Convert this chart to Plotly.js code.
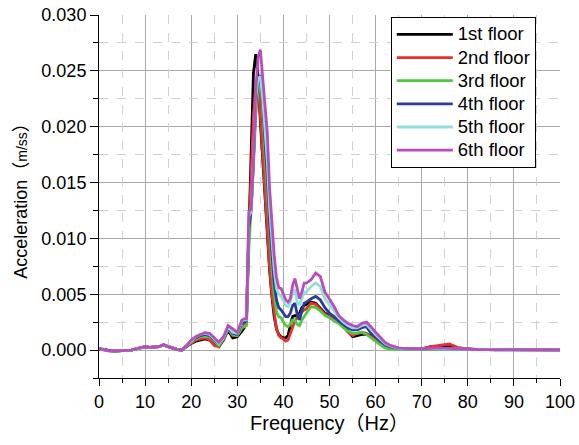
<!DOCTYPE html>
<html>
<head>
<meta charset="utf-8">
<script src="https://cdn.plot.ly/plotly-3.0.1.min.js"></script>
<style>
  html, body { margin: 0; padding: 0; background: #fff; }
  #chart { width: 579px; height: 445px; }
</style>
</head>
<body>
<div id="chart"></div>
<script>
// Frequency samples (Hz), shared by every floor
const freq = [0,1,2,3,4,5,6,7,8,9,10,11,12,13,14,15,16,17,18,19,20,21,22,23,24,25,26,27,28,29,30,31,
  31.5,32,32.5,33,33.5,34,34.5,35,35.5,36,36.5,37,37.5,38,38.5,39,39.5,40,40.5,41,41.5,42,42.5,43,43.5,44,44.5,45,
  46,47,48,49,50,51,52,53,54,55,56,57,58,59,60,61,62,63,64,65,66,
  68,70,72,74,76,78,80,82,84,86,88,90,92,94,96,98,100];

// Acceleration spectra (m/ss) for each floor
const floor1 = [0.0001,0.00004,-0.00008,-0.0001,-0.00008,-0.00005,-0.00003,0,0.0001,0.00018,0.00028,0.00024,0.00024,0.0003,0.00045,0.00028,0.00018,0.00004,0,0.0003,0.0006,0.0008,0.0009,0.001,0.0009,0.0006,0.0003,0.0009,0.0018,0.0011,0.0012,0.0017,
  0.002,0.003,0.011,0.019,0.0248,0.0265,0.0245,0.0205,0.017,0.0135,0.01,0.0072,0.0048,0.003,0.0019,0.0014,0.0012,0.0011,0.0011,0.0013,0.0022,0.003,0.0031,0.003,0.0033,0.0038,0.004,0.0041,
  0.0043,0.0042,0.0037,0.0033,0.0031,0.0028,0.0025,0.0022,0.0017,0.0012,0.0013,0.0014,0.0014,0.0013,0.001,0.0007,0.0004,0.00025,0.00015,0.0001,0.0001,
  0.0001,0.0001,0.0003,0.0003,0.0003,0.0002,0.0001,0.00005,0.00005,0.00004,0.00004,0.00004,0.00003,0.00003,0.00003,0.00003,0.00003];

const floor2 = [0.0001,0.00004,-0.00008,-0.0001,-0.00008,-0.00005,-0.00003,0,0.0001,0.00018,0.00028,0.00024,0.00024,0.0003,0.00045,0.00028,0.00018,0.00004,0,0.00035,0.0006,0.0009,0.001,0.0011,0.0009,0.0004,0.0003,0.001,0.0019,0.0013,0.0013,0.002,
  0.0021,0.003,0.0105,0.016,0.021,0.0238,0.0245,0.021,0.0175,0.014,0.0105,0.0075,0.005,0.0032,0.0019,0.0013,0.0011,0.001,0.0008,0.0009,0.0015,0.0022,0.0026,0.0029,0.0031,0.0034,0.0036,0.0037,
  0.0042,0.0041,0.0036,0.0032,0.003,0.0027,0.0024,0.0021,0.0016,0.0013,0.0015,0.0016,0.0015,0.0012,0.0009,0.0006,0.0004,0.0002,0.00015,0.0001,0.0001,
  0.0001,0.0001,0.0003,0.0004,0.00055,0.0002,0.0001,0.00005,0.00005,0.00004,0.00004,0.00004,0.00003,0.00003,0.00003,0.00003,0.00003];

const floor3 = [0.00012,0.00004,-0.00008,-0.0001,-0.00008,-0.00005,-0.00003,0,0.0001,0.00018,0.00028,0.00024,0.00024,0.0003,0.00048,0.00028,0.00018,0.00004,0,0.00038,0.0007,0.001,0.0012,0.0012,0.0012,0.0008,0.0004,0.001,0.0019,0.0014,0.0013,0.002,
  0.0021,0.0022,0.009,0.0125,0.0165,0.021,0.0232,0.0239,0.022,0.0175,0.014,0.0105,0.0075,0.005,0.0034,0.003,0.0029,0.0025,0.0022,0.0021,0.0023,0.0027,0.0027,0.0023,0.0022,0.0027,0.003,0.0032,
  0.0039,0.0038,0.0035,0.0031,0.0029,0.0026,0.0024,0.002,0.0017,0.0015,0.0015,0.0016,0.0014,0.0011,0.0008,0.0005,0.0002,0.0001,0.00005,0.00004,0.00004,
  0.00004,0.00005,0.0001,0.0001,0.0001,0.00008,0.00005,0.00004,0.00004,0.00003,0.00003,0.00003,0.00003,0.00003,0.00003,0.00003,0.00003];

const floor4 = [0.00012,0.00004,-0.00008,-0.0001,-0.00008,-0.00005,-0.00003,0,0.0001,0.0002,0.0003,0.00025,0.00025,0.0003,0.0005,0.0003,0.0002,0.00005,0,0.0004,0.0008,0.0011,0.0013,0.0014,0.0013,0.0009,0.0006,0.0011,0.002,0.0015,0.0014,0.0024,
  0.0025,0.0026,0.011,0.0125,0.017,0.022,0.024,0.0246,0.022,0.019,0.0155,0.0115,0.0085,0.006,0.0045,0.0038,0.0036,0.0033,0.003,0.003,0.0033,0.004,0.0042,0.0032,0.0027,0.0035,0.0042,0.0043,
  0.0046,0.0048,0.0045,0.0038,0.0033,0.003,0.0026,0.0023,0.002,0.0018,0.0018,0.002,0.0021,0.0015,0.0012,0.0008,0.0005,0.0003,0.0002,0.00015,0.0001,
  0.00008,0.00008,0.0001,0.0001,0.0001,0.00008,0.00005,0.00004,0.00004,0.00003,0.00003,0.00003,0.00003,0.00003,0.00003,0.00003,0.00003];

const floor5 = [0.00014,0.00005,-0.00008,-0.0001,-0.00008,-0.00005,-0.00003,0,0.0001,0.0002,0.0003,0.00025,0.00025,0.0003,0.0005,0.0003,0.0002,0.00005,0,0.0004,0.00085,0.0012,0.0014,0.0015,0.0014,0.001,0.0006,0.0011,0.0021,0.0016,0.0015,0.0026,
  0.0027,0.0027,0.012,0.0124,0.017,0.0225,0.0243,0.0245,0.0225,0.0198,0.017,0.0128,0.0098,0.0072,0.0055,0.005,0.0048,0.0044,0.004,0.0039,0.0043,0.0052,0.0054,0.0043,0.004,0.0046,0.0052,0.0052,
  0.0057,0.006,0.0057,0.0046,0.0041,0.0035,0.0029,0.0025,0.0022,0.002,0.002,0.0022,0.0023,0.0018,0.0014,0.001,0.0006,0.0004,0.00025,0.00015,0.0001,
  0.00008,0.00008,0.0001,0.00012,0.0001,0.00008,0.00005,0.00004,0.00004,0.00003,0.00003,0.00003,0.00003,0.00003,0.00003,0.00003,0.00003];

const floor6 = [0.00015,0.00005,-0.00008,-0.0001,-0.00008,-0.00005,-0.00003,0,0.00012,0.0002,0.0003,0.00025,0.00025,0.0003,0.0005,0.0003,0.0002,0.00005,0,0.0004,0.0009,0.0012,0.0014,0.00155,0.0015,0.0011,0.0007,0.0012,0.0022,0.0019,0.0016,0.0027,
  0.0028,0.0028,0.0124,0.0126,0.017,0.0232,0.0262,0.0269,0.0245,0.022,0.0195,0.0145,0.0112,0.0085,0.0065,0.0056,0.0055,0.005,0.0045,0.0043,0.0046,0.0058,0.0064,0.0055,0.0046,0.0052,0.006,0.006,
  0.0063,0.0069,0.0066,0.0052,0.0046,0.0039,0.0031,0.0027,0.0024,0.0022,0.0021,0.0024,0.0025,0.0021,0.0016,0.0011,0.0007,0.00045,0.0003,0.0002,0.00015,
  0.0001,0.0001,0.00015,0.0002,0.00015,0.0001,0.00005,0.00005,0.00004,0.00004,0.00004,0.00003,0.00003,0.00003,0.00003,0.00003,0.00003];

const floorNames = ['1st floor', '2nd floor', '3rd floor', '4th floor', '5th floor', '6th floor'];
const floorColors = ['#000000', '#e8302c', '#52c842', '#2b3d9c', '#8fe0dc', '#bb4cbb'];
const floorSeries = [floor1, floor2, floor3, floor4, floor5, floor6];

const xRange = [0, 100];
const yRange = [-0.0025, 0.030];

// Empty trace on the overlay axes so their dashed half-step grid is drawn
const traces = [{
  x: [], y: [], type: 'scatter', mode: 'lines',
  xaxis: 'x2', yaxis: 'y2', showlegend: false, hoverinfo: 'skip'
}].concat(floorSeries.map((ys, i) => ({
  x: freq,
  y: ys,
  type: 'scatter',
  mode: 'lines',
  // larger label glyphs on a tighter legend row pitch
  name: '<span style="font-size:18.5px">' + floorNames[i] + '</span>',
  line: { color: floorColors[i], width: 2.8 }
})));

const sansFamily = 'Liberation Sans, Arial, Noto Sans CJK SC, sans-serif';
const tickFont = { family: sansFamily, size: 18, color: '#000' };

const layout = {
  width: 579,
  height: 445,
  margin: { l: 99, r: 19, t: 15, b: 67 },
  paper_bgcolor: '#fff',
  plot_bgcolor: '#fff',
  showlegend: true,
  legend: {
    x: 0.633, y: 0.995, xanchor: 'left', yanchor: 'top',
    bgcolor: '#fff', bordercolor: '#000', borderwidth: 1,
    font: { family: sansFamily, size: 15.5, color: '#000' },
    itemwidth: 56,
    tracegroupgap: 0
  },
  xaxis: {
    range: xRange,
    tick0: 0, dtick: 10,
    showline: true, linecolor: '#000', linewidth: 1,
    ticks: 'outside', ticklen: 7, tickcolor: '#000',
    showgrid: true, gridcolor: '#a9a9a9', gridwidth: 1,
    zeroline: false,
    minor: { dtick: 5, ticks: 'outside', ticklen: 4, tickcolor: '#000', showgrid: false },
    tickfont: tickFont,
    title: { text: 'Frequency（Hz）', font: { family: sansFamily, size: 20, color: '#000' }, standoff: 4 }
  },
  yaxis: {
    range: yRange,
    tick0: 0, dtick: 0.005,
    tickformat: '.3f',
    showline: true, linecolor: '#000', linewidth: 1,
    ticks: 'outside', ticklen: 8, tickcolor: '#000',
    showgrid: true, gridcolor: '#a9a9a9', gridwidth: 1,
    zeroline: false,
    minor: { dtick: 0.0025, ticks: 'outside', ticklen: 5, tickcolor: '#000', showgrid: false },
    tickfont: tickFont,
    title: { text: 'Acceleration（<span style="font-size:14px">m/ss</span>）', font: { family: sansFamily, size: 18, color: '#000' }, standoff: 9 }
  },
  // Overlay axes carrying only the dashed grid halfway between major lines
  xaxis2: {
    overlaying: 'x', anchor: 'y2', range: xRange,
    tick0: 5, dtick: 10,
    showgrid: true, gridcolor: '#d0d0d0', gridwidth: 1, griddash: 'dash',
    showticklabels: false, ticks: '', showline: false, zeroline: false
  },
  yaxis2: {
    overlaying: 'y', anchor: 'x2', range: yRange,
    tick0: 0.0025, dtick: 0.005,
    showgrid: true, gridcolor: '#d0d0d0', gridwidth: 1, griddash: 'dash',
    showticklabels: false, ticks: '', showline: false, zeroline: false
  }
};

Plotly.newPlot('chart', traces, layout, { displayModeBar: false, staticPlot: true });
</script>
</body>
</html>
